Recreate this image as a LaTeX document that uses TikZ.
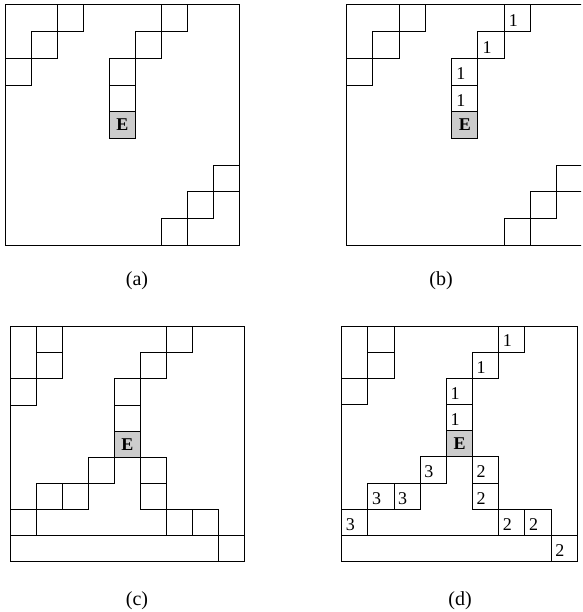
\documentclass[tikz,border=0pt]{standalone}
\usepackage{fontspec}
\setmainfont{Liberation Serif}
\begin{document}
\begin{tikzpicture}[
  gridline/.style={line width=1pt, line join=miter},
  cellbox/.style={gridline, draw=black},
  ecell/.style={gridline, draw=black, fill=gray!40},
  dig/.style={inner sep=0pt, anchor=base west, font=\fontsize{18}{18}\selectfont},
  eletter/.style={inner sep=0pt, font=\fontsize{18}{18}\selectfont\bfseries},
  caption/.style={inner sep=0pt, font=\fontsize{20}{20}\selectfont}
]
\useasboundingbox (0pt,0pt) rectangle (582pt,-612pt);

% ---------- (a) ----------
\begin{scope}[shift={(5pt,-5pt)}, x=26.1pt, y=-26.67pt]
  \draw[cellbox] (0,0) rectangle (9,9);
  \foreach \c/\r in {2/0,1/1,0/2,6/0,5/1,4/2,4/3,8/6,7/7,6/8}
    \draw[cellbox] (\c,\r) rectangle ++(1,1);
  \draw[ecell] (4,4) rectangle (5,5);
  \node[eletter] (aE) at (4.5,4.5) {E};
\end{scope}

% ---------- (b) (cut off at the right edge) ----------
\begin{scope}
\clip (0pt,0pt) rectangle (581pt,-612pt);
\begin{scope}[shift={(346.7pt,-5pt)}, x=26.25pt, y=-26.67pt]
  \draw[cellbox] (0,0) rectangle (9,9);
  \foreach \c/\r in {2/0,1/1,0/2,6/0,5/1,4/2,4/3,8/6,7/7,6/8}
    \draw[cellbox] (\c,\r) rectangle ++(1,1);
  \draw[ecell] (4,4) rectangle (5,5);
  \node[eletter] (bE) at (4.5,4.5) {E};
  \node[dig] (b1) at (6.17,0.8) {1};
  \node[dig] (b2) at (5.17,1.8) {1};
  \node[dig] (b3) at (4.17,2.8) {1};
  \node[dig] (b4) at (4.17,3.8) {1};
\end{scope}
\end{scope}

% ---------- (c) ----------
\begin{scope}[shift={(10pt,-326.7pt)}, x=26.1pt, y=-26.1pt]
  \draw[cellbox] (0,0) rectangle (9,9);
  \foreach \c/\r in {1/0,1/1,0/2,6/0,5/1,4/2,4/3,3/5,2/6,1/6,0/7,5/5,5/6,6/7,7/7,8/8}
    \draw[cellbox] (\c,\r) rectangle ++(1,1);
  \draw[gridline] (0,8) -- (8,8);
  \draw[ecell] (4,4) rectangle (5,5);
  \node[eletter] (cE) at (4.5,4.5) {E};
\end{scope}

% ---------- (d) ----------
\begin{scope}[shift={(341.7pt,-326pt)}, x=26.18pt, y=-26.18pt]
  \draw[cellbox] (0,0) rectangle (9,9);
  \foreach \c/\r in {1/0,1/1,0/2,6/0,5/1,4/2,4/3,3/5,2/6,1/6,0/7,5/5,5/6,6/7,7/7,8/8}
    \draw[cellbox] (\c,\r) rectangle ++(1,1);
  \draw[gridline] (0,8) -- (8,8);
  \draw[ecell] (4,4) rectangle (5,5);
  \node[eletter] (dE) at (4.5,4.5) {E};
  \node[dig] (d1) at (6.15,0.8) {1};
  \node[dig] (d2) at (5.15,1.8) {1};
  \node[dig] (d3) at (4.15,2.8) {1};
  \node[dig] (d4) at (4.15,3.8) {1};
  \node[dig] (d5) at (5.15,5.8) {2};
  \node[dig] (d6) at (5.15,6.8) {2};
  \node[dig] (d7) at (6.15,7.8) {2};
  \node[dig] (d8) at (7.15,7.8) {2};
  \node[dig] (d9) at (8.15,8.8) {2};
  \node[dig] (d10) at (3.15,5.8) {3};
  \node[dig] (d11) at (2.15,6.8) {3};
  \node[dig] (d12) at (1.15,6.8) {3};
  \node[dig] (d13) at (0.15,7.8) {3};
\end{scope}

% ---------- captions ----------
\node[caption] (capa) at (137pt,-281pt) {(a)};
\node[caption] (capb) at (441pt,-281pt) {(b)};
\node[caption] (capc) at (137pt,-601pt) {(c)};
\node[caption] (capd) at (460pt,-601pt) {(d)};
\end{tikzpicture}
\end{document}
